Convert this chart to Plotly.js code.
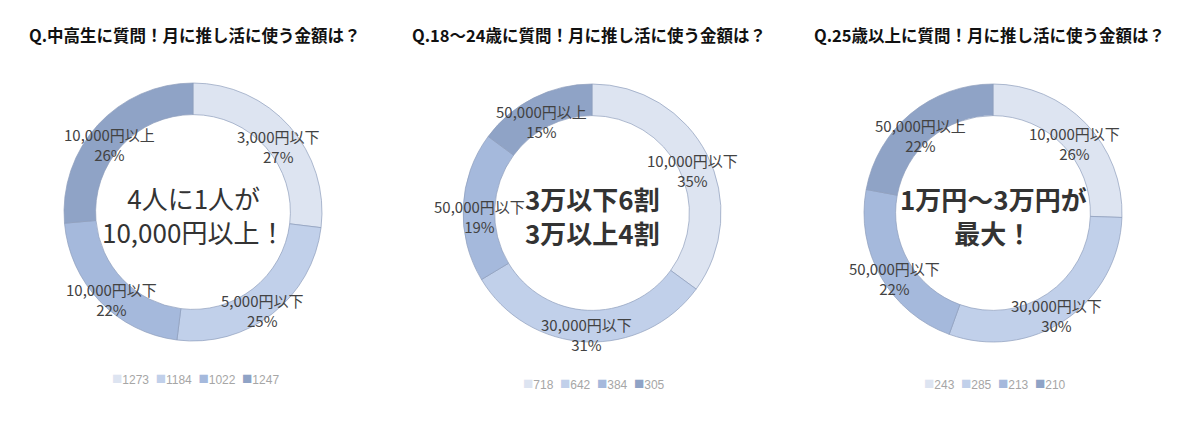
<!DOCTYPE html>
<html>
<head>
<meta charset="utf-8">
<script src="https://cdn.plot.ly/plotly-3.0.1.min.js"></script>
<style>
    body { margin: 0; background: #fff; }
</style>
</head>
<body>
<div id="plot" style="width:1200px;height:421px"></div>
<script>
// chart data
const titles = [
    "Q.中高生に質問！月に推し活に使う金額は？",
    "Q.18～24歳に質問！月に推し活に使う金額は？",
    "Q.25歳以上に質問！月に推し活に使う金額は？"
];
const categories1 = ["3,000円以下", "5,000円以下", "10,000円以下", "10,000円以上"];
const values1 = [1273, 1184, 1022, 1247];
const categories2 = ["10,000円以下", "30,000円以下", "50,000円以下", "50,000円以上"];
const values2 = [718, 642, 384, 305];
const categories3 = ["10,000円以下", "30,000円以下", "50,000円以下", "50,000円以上"];
const values3 = [243, 285, 213, 210];
const centerTexts = [
    "4人に1人が<br>10,000円以上！",
    "3万以下6割<br>3万以上4割",
    "1万円～3万円が<br>最大！"
];

// look of the page
const W = 1200, H = 421;
const FONT = "Noto Sans CJK JP, Noto Sans, sans-serif";
const sliceColors = ["#dde4f1", "#c1d0ea", "#a5b9dc", "#8fa3c6"];
const charts = [
    { cats: categories1, vals: values1, cx: 193, cy: 212, titleX: 27, legendY: 378, weight: 400 },
    { cats: categories2, vals: values2, cx: 592, cy: 213, titleX: 410, legendY: 383, weight: 700 },
    { cats: categories3, vals: values3, cx: 993, cy: 213, titleX: 812, legendY: 383, weight: 700 }
];
const R = 129;        // outer radius in px
const LABEL_R = 113;  // where the data labels sit

const px = x => x / W;
const py = y => 1 - y / H;

let data = [];
let annotations = [];

// plain text annotation, anchored on its centre unless told otherwise
function note(x, y, text, font, extra) {
    return Object.assign({
        xref: "paper", yref: "paper",
        x: px(x), y: py(y),
        xanchor: "center", yanchor: "middle",
        text: text,
        showarrow: false,
        font: font
    }, extra || {});
}

charts.forEach((c, i) => {
    data.push({
        type: "pie",
        labels: c.cats,
        values: c.vals,
        hole: 0.755,
        sort: false,
        direction: "clockwise",
        rotation: 0,
        textinfo: "none",
        showlegend: false,
        marker: { colors: sliceColors, line: { color: "#8e9dbb", width: 0.7 } },
        domain: { x: [px(c.cx - R), px(c.cx + R)], y: [py(c.cy + R), py(c.cy - R)] }
    });

    // data labels, placed at the middle of each slice
    const total = c.vals.reduce((a, b) => a + b, 0);
    let cum = 0;
    c.vals.forEach((v, j) => {
        const a = 2 * Math.PI * (cum + v / 2) / total;
        cum += v;
        annotations.push(note(
            c.cx + LABEL_R * Math.sin(a),
            c.cy - LABEL_R * Math.cos(a) + 9,
            c.cats[j] + "<br>" + Math.round(100 * v / total) + "%",
            { family: FONT, size: 15, color: "#424242" }
        ));
    });

    // big text in the hole
    annotations.push(note(c.cx, c.cy + 2, centerTexts[i],
        { family: FONT, size: 26, color: "#333333", weight: c.weight }));

    // title above each chart
    annotations.push(note(c.titleX, 35, titles[i],
        { family: FONT, size: 16.5, color: "#111111", weight: 700 },
        { xanchor: "left" }));

    // small value legend under the chart
    const legendText = c.vals.map((v, j) =>
        `<span style="color:${sliceColors[j]};font-size:17px">■</span>${v}`
    ).join("\u00a0\u00a0");
    annotations.push(note(c.cx + 2, c.legendY, legendText,
        { family: "Liberation Sans Narrow, Liberation Sans, sans-serif", size: 12, color: "#a6a6a6" }));
});

const layout = {
    width: W,
    height: H,
    margin: { l: 0, r: 0, t: 0, b: 0 },
    paper_bgcolor: "#ffffff",
    showlegend: false,
    annotations: annotations
};

Plotly.newPlot("plot", data, layout, { displayModeBar: false, staticPlot: true });
</script>
</body>
</html>
